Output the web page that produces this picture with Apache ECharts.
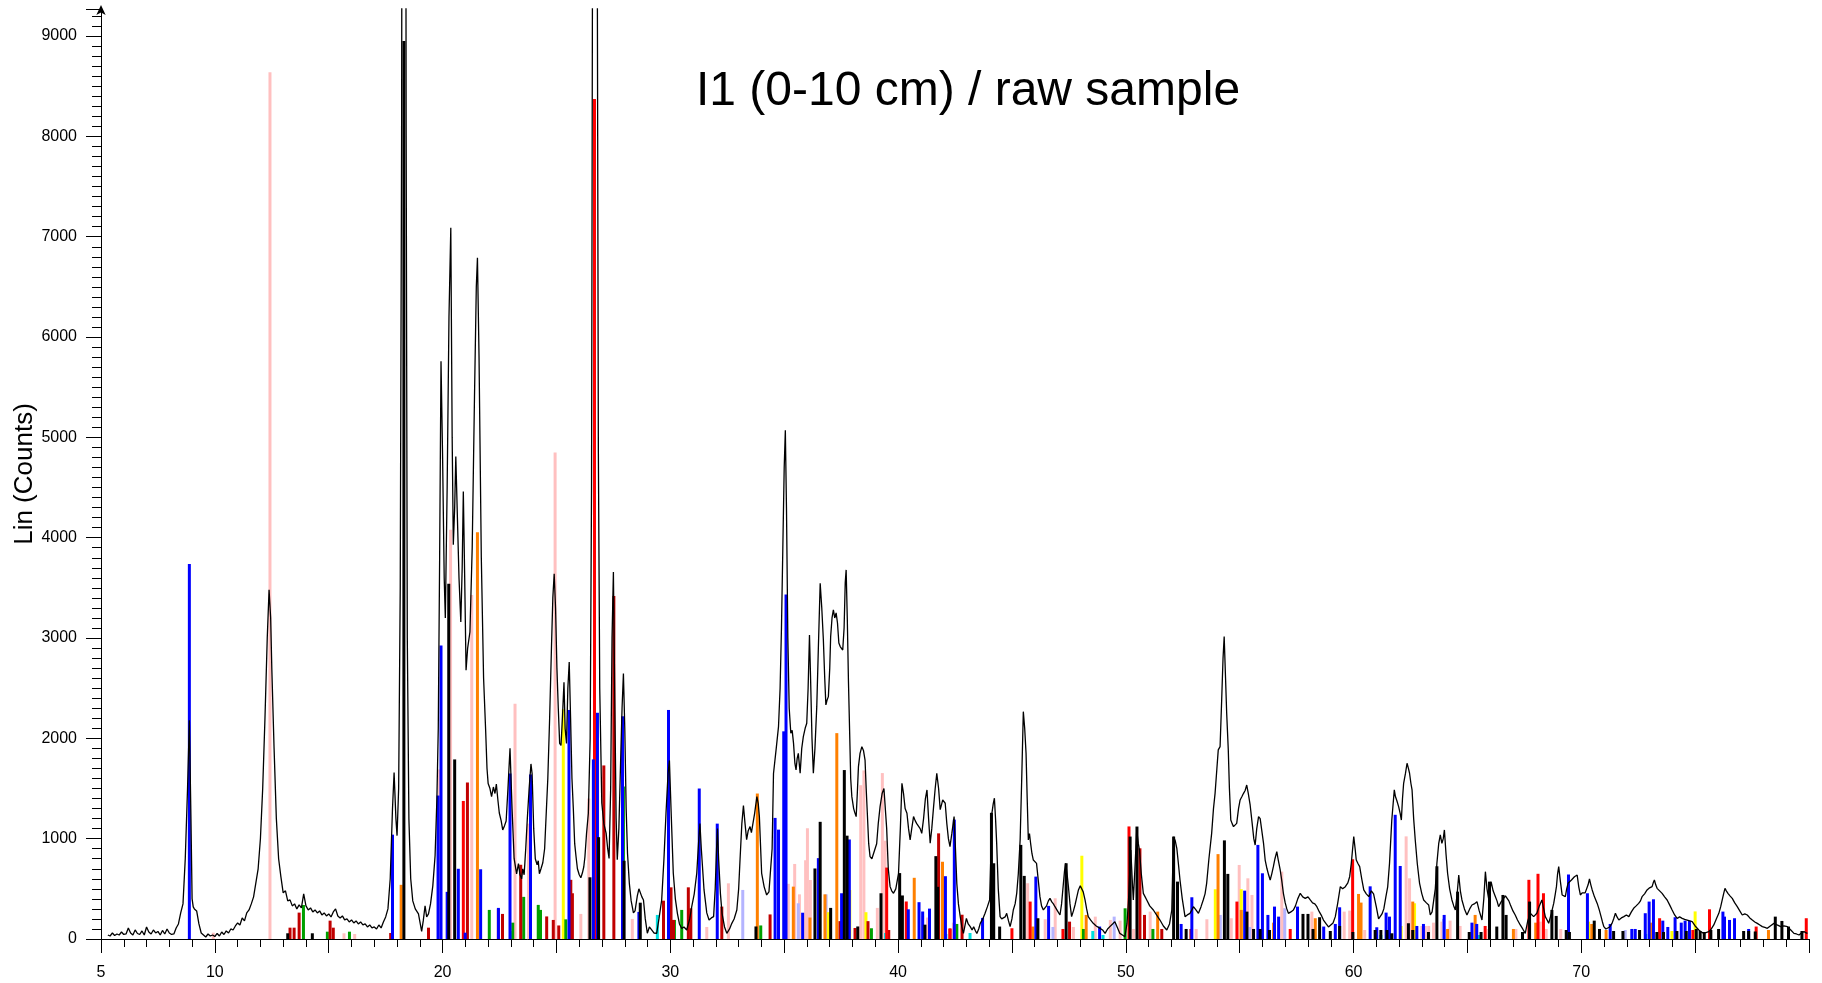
<!DOCTYPE html>
<html>
<head>
<meta charset="utf-8">
<title>I1 (0-10 cm) / raw sample</title>
<script src="https://cdn.jsdelivr.net/npm/echarts@6/dist/echarts.min.js"></script>
<style>
  html, body { margin: 0; padding: 0; background: #fff; }
  #chart { width: 1822px; height: 983px; }
</style>
</head>
<body>
<div id="chart"></div>
<script>
// Measured scan: [2-theta (deg), intensity (counts)]
const scanPoints = [
  [5.3,40],[5.4,30],[5.5,60],[5.6,35],[5.7,50],[5.8,40],[5.9,70],[6.0,45],[6.1,50],[6.2,110],[6.3,60],[6.4,40],
  [6.5,90],[6.6,55],[6.7,45],[6.8,80],[6.9,40],[7.0,120],[7.1,70],[7.2,50],[7.3,90],[7.4,60],[7.5,75],[7.6,40],
  [7.7,85],[7.8,50],[7.9,100],[8.0,60],[8.1,45],[8.2,50],[8.3,110],[8.4,150],[8.5,260],[8.6,350],[8.7,800],
  [8.8,1500],[8.88,2180],[8.95,1200],[9.0,400],[9.05,320],[9.1,300],[9.2,280],[9.3,150],[9.4,60],[9.5,40],
  [9.6,20],[9.7,50],[9.8,30],[9.9,40],[10.0,25],[10.1,55],[10.2,30],[10.3,70],[10.4,45],[10.5,80],[10.6,60],
  [10.7,100],[10.8,90],[10.9,130],[11.0,160],[11.1,140],[11.2,210],[11.3,180],[11.4,260],[11.5,290],[11.6,350],
  [11.7,420],[11.8,560],[11.9,700],[12.0,1000],[12.1,1500],[12.2,2200],[12.3,3000],[12.38,3480],[12.45,3200],
  [12.5,2700],[12.6,1900],[12.7,1200],[12.8,800],[12.9,620],[13.0,460],[13.1,480],[13.2,380],[13.3,390],
  [13.4,330],[13.5,350],[13.6,300],[13.7,340],[13.8,310],[13.9,450],[14.0,330],[14.1,290],[14.2,310],[14.3,270],
  [14.4,290],[14.5,260],[14.6,280],[14.7,240],[14.8,260],[14.9,230],[15.0,250],[15.1,220],[15.2,270],[15.3,300],
  [15.4,230],[15.5,210],[15.6,230],[15.7,190],[15.8,200],[15.9,170],[16.0,190],[16.1,160],[16.2,180],[16.3,150],
  [16.4,170],[16.5,140],[16.6,150],[16.7,120],[16.8,140],[16.9,110],[17.0,120],[17.1,100],[17.2,140],[17.3,110],
  [17.4,170],[17.5,220],[17.6,300],[17.7,600],[17.8,1300],[17.87,1660],[17.95,1200],[18.0,1030],[18.07,1500],
  [18.14,3500],[18.2,8000],[18.24,15000],[18.36,15000],[18.4,8000],[18.45,3000],[18.52,1200],[18.6,600],
  [18.69,380],[18.8,300],[18.94,250],[19.02,150],[19.08,76],[19.15,180],[19.23,330],[19.3,220],[19.38,250],
  [19.47,350],[19.57,530],[19.67,830],[19.75,1400],[19.81,2100],[19.87,3800],[19.93,5760],[20.0,4800],
  [20.07,3600],[20.12,3200],[20.2,4500],[20.28,6200],[20.36,7090],[20.42,5000],[20.47,3930],[20.53,4300],
  [20.58,4810],[20.65,4200],[20.72,3600],[20.8,3160],[20.86,3700],[20.91,4460],[20.97,3600],[21.03,2680],
  [21.1,2900],[21.2,3060],[21.3,3900],[21.4,5400],[21.48,6500],[21.53,6790],[21.6,5800],[21.7,3800],[21.8,2600],
  [21.89,2080],[21.95,1700],[22.0,1550],[22.08,1500],[22.15,1420],[22.23,1515],[22.3,1450],[22.36,1545],
  [22.43,1380],[22.49,1256],[22.57,1180],[22.64,1087],[22.72,1130],[22.79,1177],[22.87,1500],[22.96,1900],
  [23.05,1300],[23.14,803],[23.25,650],[23.33,752],[23.4,640],[23.47,600],[23.52,700],[23.58,640],[23.65,900],
  [23.72,1200],[23.8,1500],[23.88,1745],[23.93,1650],[24.0,1100],[24.07,800],[24.15,740],[24.2,780],[24.25,650],
  [24.32,700],[24.4,760],[24.48,900],[24.55,1250],[24.62,1600],[24.7,2200],[24.78,2900],[24.84,3400],[24.9,3640],
  [24.96,3300],[25.02,2700],[25.08,2300],[25.14,1950],[25.2,1929],[25.26,2200],[25.33,2560],[25.38,2100],
  [25.44,1950],[25.5,2500],[25.56,2760],[25.62,2200],[25.68,1600],[25.74,1300],[25.8,950],[25.86,820],[25.92,700],
  [26.0,640],[26.07,610],[26.14,660],[26.2,720],[26.25,820],[26.32,1050],[26.4,1253],[26.48,2000],[26.54,4500],
  [26.58,9500],[26.62,14000],[26.7,15000],[26.77,12000],[26.81,8000],[26.84,4860],[26.9,2500],[26.99,1356],
  [27.08,1150],[27.18,1055],[27.25,900],[27.31,803],[27.38,1500],[27.44,3000],[27.5,3659],[27.56,2400],
  [27.62,1200],[27.67,790],[27.74,1100],[27.82,1800],[27.88,2300],[27.94,2646],[28.0,2100],[28.06,1300],
  [28.12,852],[28.2,555],[28.28,380],[28.38,260],[28.45,280],[28.55,430],[28.62,500],[28.67,495],[28.75,420],
  [28.82,389],[28.9,200],[28.99,57],[29.08,120],[29.18,90],[29.28,60],[29.4,57],[29.5,200],[29.62,389],
  [29.72,800],[29.81,1253],[29.9,1650],[29.96,1780],[30.03,1300],[30.13,655],[30.22,400],[30.31,256],[30.4,150],
  [30.5,106],[30.6,120],[30.72,90],[30.85,200],[30.94,322],[31.05,450],[31.16,655],[31.25,1000],[31.3,1150],
  [31.36,900],[31.48,489],[31.6,260],[31.7,190],[31.8,210],[31.9,223],[31.97,500],[32.03,900],[32.07,1100],
  [32.12,800],[32.2,450],[32.27,256],[32.38,120],[32.48,57],[32.6,100],[32.7,156],[32.8,200],[32.92,289],
  [33.0,500],[33.06,788],[33.14,1150],[33.21,1330],[33.28,1150],[33.35,990],[33.42,1080],[33.5,1120],[33.56,1060],
  [33.62,1053],[33.7,1250],[33.8,1420],[33.86,1350],[33.91,1220],[34.01,655],[34.12,520],[34.23,439],[34.33,470],
  [34.41,489],[34.47,900],[34.53,1650],[34.65,1900],[34.75,2117],[34.82,2500],[34.88,3100],[34.94,3900],
  [35.0,4700],[35.05,5070],[35.1,4300],[35.16,3000],[35.22,2300],[35.29,2051],[35.35,2080],[35.41,1950],
  [35.47,1750],[35.52,1685],[35.57,1800],[35.62,1850],[35.7,1652],[35.77,1900],[35.84,2017],[35.92,2100],
  [35.99,2150],[36.05,2500],[36.11,3031],[36.16,2582],[36.22,2000],[36.28,1652],[36.35,1900],[36.43,2316],
  [36.5,2900],[36.58,3546],[36.65,3300],[36.72,2981],[36.78,2600],[36.83,2333],[36.88,2380],[36.94,2416],
  [37.0,2700],[37.04,3014],[37.1,3200],[37.16,3280],[37.22,3200],[37.28,3250],[37.34,3150],[37.4,2950],
  [37.46,2915],[37.52,2900],[37.57,2880],[37.63,3100],[37.68,3550],[37.72,3679],[37.77,3200],[37.82,2582],
  [37.88,2000],[37.92,1600],[37.97,1419],[38.05,1300],[38.1,1260],[38.16,1220],[38.21,1450],[38.26,1718],
  [38.33,1850],[38.41,1917],[38.48,1880],[38.55,1784],[38.6,1500],[38.65,1253],[38.71,950],[38.77,821],
  [38.85,800],[38.92,850],[38.99,854],[39.06,950],[39.13,1150],[39.21,1319],[39.3,1450],[39.38,1500],[39.43,1518],
  [39.5,1100],[39.57,700],[39.65,522],[39.72,480],[39.8,456],[39.9,500],[40.02,655],[40.1,1100],[40.17,1552],
  [40.24,1450],[40.31,1300],[40.39,1253],[40.46,1100],[40.53,987],[40.6,1100],[40.68,1220],[40.75,1180],
  [40.82,1150],[40.9,1153],[40.97,1100],[41.04,1053],[41.12,1200],[41.2,1400],[41.27,1486],[41.34,1200],
  [41.41,954],[41.48,1100],[41.56,1319],[41.63,1500],[41.7,1652],[41.78,1500],[41.85,1290],[41.92,1350],
  [41.96,1386],[42.07,1353],[42.14,1153],[42.21,1000],[42.28,920],[42.36,1050],[42.46,1220],[42.52,900],
  [42.58,552],[42.65,350],[42.73,223],[42.8,120],[42.87,56],[43.0,206],[43.08,150],[43.17,123],[43.25,90],
  [43.32,123],[43.4,80],[43.46,56],[43.54,100],[43.61,156],[43.72,200],[43.82,256],[43.92,320],[44.02,389],
  [44.07,800],[44.12,1253],[44.18,1350],[44.23,1403],[44.28,1200],[44.33,954],[44.4,500],[44.48,223],[44.55,200],
  [44.62,189],[44.7,220],[44.77,256],[44.85,180],[44.92,123],[45.0,200],[45.06,289],[45.14,350],[45.21,455],
  [45.28,650],[45.36,987],[45.43,1600],[45.5,2266],[45.56,2100],[45.62,1852],[45.67,1400],[45.72,987],
  [45.77,1050],[45.82,954],[45.88,850],[45.94,787],[46.0,800],[46.08,754],[46.15,600],[46.23,422],[46.3,330],
  [46.38,290],[46.45,273],[46.52,330],[46.6,380],[46.67,405],[46.75,370],[46.82,350],[46.89,322],[47.0,280],
  [47.11,239],[47.18,350],[47.26,555],[47.31,680],[47.36,754],[47.42,650],[47.48,522],[47.55,350],[47.62,223],
  [47.7,280],[47.77,339],[47.85,420],[47.92,489],[48.0,530],[48.06,522],[48.13,470],[48.21,389],[48.28,300],
  [48.35,223],[48.45,190],[48.57,156],[48.7,130],[48.87,106],[48.98,90],[49.09,56],[49.2,100],[49.3,123],
  [49.42,150],[49.52,173],[49.62,120],[49.74,56],[49.85,40],[49.96,23],[50.05,150],[50.12,389],[50.18,700],
  [50.22,887],[50.28,600],[50.33,389],[50.4,700],[50.48,1087],[50.55,950],[50.6,887],[50.68,650],[50.77,455],
  [50.85,420],[50.92,389],[51.05,330],[51.21,289],[51.35,240],[51.5,189],[51.65,130],[51.8,90],[51.92,150],
  [52.02,289],[52.06,700],[52.1,1020],[52.17,980],[52.24,904],[52.31,750],[52.38,588],[52.48,400],[52.6,223],
  [52.7,240],[52.82,256],[52.9,290],[52.97,322],[53.08,290],[53.19,256],[53.3,320],[53.4,389],[53.48,450],
  [53.55,555],[53.65,800],[53.77,1053],[53.85,1300],[53.92,1452],[54.0,1700],[54.06,1885],[54.14,1918],
  [54.21,2383],[54.27,2800],[54.32,3014],[54.38,2600],[54.43,2250],[54.5,1885],[54.55,1500],[54.61,1186],
  [54.67,1150],[54.73,1120],[54.8,1130],[54.87,1153],[54.95,1300],[55.02,1386],[55.1,1420],[55.17,1452],
  [55.24,1480],[55.31,1535],[55.38,1450],[55.46,1336],[55.55,1150],[55.62,1000],[55.68,937],[55.75,1100],
  [55.83,1220],[55.9,1200],[55.97,1186],[56.05,950],[56.12,787],[56.2,700],[56.27,640],[56.34,588],[56.41,650],
  [56.48,721],[56.55,800],[56.63,871],[56.7,780],[56.78,688],[56.85,580],[56.92,455],[57.0,360],[57.07,300],
  [57.14,256],[57.25,270],[57.36,289],[57.45,330],[57.55,400],[57.66,455],[57.77,420],[57.88,405],[58.0,420],
  [58.1,389],[58.2,360],[58.3,350],[58.39,322],[58.5,270],[58.6,230],[58.68,189],[58.8,150],[58.9,120],
  [58.98,106],[59.1,160],[59.2,223],[59.3,350],[59.42,522],[59.52,500],[59.64,522],[59.75,560],[59.83,621],
  [59.9,750],[59.96,900],[60.01,1020],[60.07,900],[60.12,787],[60.2,750],[60.27,721],[60.36,600],[60.45,489],
  [60.56,450],[60.67,422],[60.78,480],[60.88,450],[61.0,320],[61.1,200],[61.17,189],[61.25,250],[61.33,300],
  [61.42,420],[61.5,520],[61.58,754],[61.68,1186],[61.74,1350],[61.79,1486],[61.84,1420],[61.9,1380],
  [61.98,1320],[62.05,1250],[62.1,1186],[62.15,1400],[62.2,1552],[62.28,1650],[62.35,1752],[62.41,1700],
  [62.46,1652],[62.52,1550],[62.57,1486],[62.64,1200],[62.71,987],[62.8,750],[62.9,555],[63.0,450],[63.08,389],
  [63.2,360],[63.3,339],[63.37,239],[63.45,270],[63.52,289],[63.59,500],[63.66,754],[63.74,950],[63.81,1037],
  [63.88,954],[63.94,1000],[63.99,1087],[64.06,850],[64.13,655],[64.22,500],[64.32,389],[64.4,330],[64.47,289],
  [64.55,450],[64.62,638],[64.69,480],[64.76,389],[64.87,300],[64.98,239],[65.1,300],[65.2,339],[65.3,350],
  [65.42,372],[65.52,280],[65.64,189],[65.72,400],[65.79,671],[65.86,500],[65.93,405],[66.0,500],[66.04,571],
  [66.13,480],[66.23,422],[66.3,380],[66.37,322],[66.48,370],[66.59,405],[66.67,430],[66.74,422],[66.82,380],
  [66.89,339],[67.0,280],[67.1,239],[67.2,190],[67.32,140],[67.43,100],[67.54,56],[67.65,180],[67.76,256],
  [67.84,240],[67.91,223],[67.98,240],[68.05,256],[68.16,330],[68.27,389],[68.35,300],[68.42,223],[68.5,190],
  [68.57,156],[68.68,250],[68.79,355],[68.86,450],[68.91,522],[68.96,650],[69.01,721],[69.08,580],[69.16,439],
  [69.23,430],[69.3,422],[69.36,500],[69.42,555],[69.5,570],[69.57,588],[69.63,600],[69.7,621],[69.76,630],
  [69.82,638],[69.89,520],[69.96,439],[70.04,460],[70.11,472],[70.17,460],[70.23,455],[70.3,540],[70.36,598],
  [70.42,540],[70.48,489],[70.58,420],[70.7,355],[70.79,290],[70.87,223],[70.93,170],[70.99,123],[71.08,100],
  [71.16,90],[71.25,120],[71.35,156],[71.42,200],[71.5,256],[71.57,220],[71.65,189],[71.76,210],[71.87,223],
  [71.98,240],[72.09,223],[72.2,270],[72.3,306],[72.41,330],[72.52,355],[72.6,380],[72.67,422],[72.78,450],
  [72.89,489],[73.0,510],[73.11,522],[73.16,560],[73.21,588],[73.27,540],[73.33,505],[73.44,480],[73.55,455],
  [73.66,420],[73.77,389],[73.88,340],[73.99,289],[74.1,240],[74.21,206],[74.32,220],[74.43,206],[74.54,195],
  [74.65,189],[74.76,180],[74.87,173],[75.0,130],[75.16,90],[75.27,70],[75.38,56],[75.5,65],[75.6,73],
  [75.71,100],[75.82,140],[75.93,200],[76.04,256],[76.12,320],[76.19,389],[76.25,450],[76.31,505],[76.37,480],
  [76.44,455],[76.53,430],[76.63,405],[76.74,360],[76.85,322],[76.96,280],[77.07,239],[77.18,250],[77.29,239],
  [77.4,210],[77.51,189],[77.62,170],[77.73,156],[77.84,140],[77.95,123],[78.06,115],[78.17,106],[78.3,130],
  [78.46,156],[78.6,140],[78.76,123],[78.9,130],[79.05,123],[79.2,90],[79.34,56],[79.45,50],[79.56,40],
  [79.67,60],[79.78,73],[79.88,60],[79.93,56]
];

// Reference phase line patterns: [2-theta, counts]
const sticksPink = [
  [9.93,63],[12.42,8640],[15.67,57],[16.14,50],[19.86,1690],[20.35,4080],[21.28,3430],[23.18,2345],[23.77,1150],
  [24.94,4850],[26.07,250],[26.42,1400],[28.33,200],[31.6,120],[32.55,555],[34.99,890],[35.18,550],[35.46,748],
  [35.67,445],[35.94,785],[36.02,1104],[36.15,588],[38.36,1533],[38.5,1680],[39.09,310],[39.31,1654],[39.43,980],
  [41.08,232],[41.29,214],[42.43,163],[45.69,556],[46.46,197],[46.9,406],[47.7,120],[48.66,223],[49.32,190],
  [49.75,183],[50.34,100],[51.07,273],[53.09,100],[53.56,197],[54.63,207],[54.98,738],[55.36,605],[55.54,439],
  [56.85,672],[56.93,306],[58.17,273],[59.59,273],[59.83,283],[60.49,90],[62.31,1023],[62.46,605],[63.0,130],
  [63.15,130],[63.3,130],[63.51,163],[63.88,173],[64.24,183],[64.68,130],[65.93,100],[67.13,100],[68.2,173],
  [68.46,100],[69.1,100]
];
const sticksLavender = [
  [24.22,150],[33.18,489],[35.62,356],[36.84,445],[46.8,120],[49.49,223],[54.15,240],[55.44,120],[56.98,306],
  [63.95,200],[71.93,90]
];
const sticksCyan = [
  [23.05,80],[29.43,240],[39.45,60],[42.1,50],[43.16,60],[48.55,80],[49.0,40],[61.2,40],[65.5,40],[72.83,50]
];
const sticksYellow = [
  [25.3,2290],[36.94,267],[37.88,488],[38.59,267],[48.07,830],[53.93,496],[55.07,496],[62.09,130],[62.68,356],
  [70.32,173],[73.98,80],[75.0,275]
];
const sticksGreen = [
  [13.89,339],[14.94,73],[15.91,73],[22.05,290],[23.08,163],[23.56,420],[24.2,340],[24.3,290],[25.41,196],
  [27.94,1520],[30.18,190],[30.5,290],[33.97,135],[38.83,107],[42.58,150],[48.14,100],[49.97,306],[51.19,100]
];
const sticksOrange = [
  [18.18,540],[21.53,4055],[26.73,455],[33.82,1450],[35.4,522],[36.13,214],[36.79,445],[37.31,2052],[40.71,610],
  [41.95,770],[45.92,124],[48.26,240],[51.4,273],[54.05,846],[55.07,290],[56.49,163],[58.32,207],[60.22,449],
  [60.33,363],[62.6,373],[64.13,100],[65.34,240],[67.02,100],[68.0,163],[69.44,100],[70.46,150],[71.09,90],
  [73.07,163],[78.22,90]
];
const sticksDarkRed = [
  [13.3,113],[13.48,113],[13.7,263],[15.06,183],[15.2,113],[17.72,60],[19.38,113],[21.09,1560],[22.63,250],
  [23.43,740],[24.57,225],[24.86,190],[25.1,135],[25.63,590],[25.7,456],[27.08,1730],[27.52,3420],[29.7,382],
  [30.03,515],[30.14,190],[30.79,515],[30.9,306],[32.26,323],[34.38,245],[37.45,178],[38.11,110],[38.68,178],
  [39.59,90],[41.78,1053],[42.28,100],[42.81,242],[47.53,173],[50.62,904],[50.82,240],[51.58,100],[52.86,100]
];
const sticksRed = [
  [20.91,1376],[22.45,300],[26.67,8372],[39.5,712],[40.36,374],[42.28,107],[45.0,107],[45.8,373],[47.24,100],
  [50.14,1122],[54.88,373],[57.22,100],[59.96,795],[65.78,130],[67.7,590],[68.1,650],[68.34,456],[73.44,207],
  [74.9,90],[75.63,296],[77.68,124],[79.88,207]
];
const sticksBlue = [
  [8.88,3739],[17.8,1040],[19.8,1430],[19.93,2925],[20.2,470],[20.69,700],[20.99,63],[21.67,695],[22.45,310],
  [22.96,1650],[23.86,1640],[25.55,2283],[26.62,1790],[26.8,2255],[27.9,2220],[28.62,270],[29.92,2283],
  [31.27,1500],[32.06,1150],[34.6,1207],[34.75,1090],[34.98,2070],[35.08,3433],[35.81,262],[36.5,806],
  [37.52,456],[37.86,992],[40.45,296],[40.92,367],[41.08,274],[41.38,303],[42.08,626],[42.47,1190],[43.71,210],
  [46.05,622],[46.61,330],[48.85,124],[52.43,150],[52.9,416],[55.22,482],[55.8,938],[56.0,655],[56.24,240],
  [56.53,323],[56.71,223],[57.54,323],[58.69,124],[59.2,150],[59.39,316],[60.73,525],[61.02,117],[61.43,263],
  [61.58,223],[61.83,1238],[62.05,728],[62.78,130],[63.07,150],[63.98,240],[65.2,163],[65.41,150],[69.44,643],
  [70.27,456],[71.27,150],[72.22,100],[72.37,100],[72.81,257],[72.98,373],[73.17,396],[73.58,183],[73.8,120],
  [74.12,217],[74.39,163],[74.56,183],[74.75,183],[76.22,273],[76.29,223],[76.51,190],[76.73,207],[77.35,100]
];
const sticksBlack = [
  [13.2,57],[14.28,57],[18.3,8950],[20.27,3540],[20.53,1790],[26.47,615],[26.85,1015],[27.97,780],[28.68,362],
  [33.76,125],[36.35,703],[36.58,1168],[37.04,310],[37.64,1684],[37.76,1030],[38.23,125],[39.25,456],[40.07,657],
  [40.19,434],[41.18,143],[41.66,826],[41.74,520],[44.1,1258],[44.2,755],[44.46,124],[45.39,938],[45.54,629],
  [46.14,207],[47.38,755],[50.19,1021],[50.49,1121],[52.1,1021],[52.27,572],[52.65,100],[54.33,983],[54.48,649],
  [55.32,273],[55.61,100],[55.9,100],[56.31,90],[57.78,250],[58.0,250],[58.22,100],[58.51,217],[58.98,80],
  [59.39,130],[59.97,70],[60.95,90],[61.2,90],[61.47,90],[61.68,57],[62.41,157],[62.6,90],[63.29,70],[63.66,725],
  [64.57,472],[65.08,70],[65.6,70],[65.97,572],[66.29,124],[66.56,439],[66.7,240],[67.42,70],[67.73,373],
  [68.71,290],[68.9,230],[69.34,90],[69.48,70],[70.57,183],[70.8,100],[71.42,80],[71.83,80],[72.56,90],
  [73.32,70],[73.61,70],[74.2,80],[74.61,80],[75.05,100],[75.22,80],[75.4,70],[75.69,90],[76.03,100],[77.13,80],
  [77.35,80],[77.64,75],[78.52,223],[78.81,180],[79.1,124],[79.69,80]
];

// Tick labels shown on the 2-theta axis
const xTickLabels = [5, 10, 20, 30, 40, 50, 60, 70];

const FONT = '"Liberation Sans", Arial, Helvetica, sans-serif';

// Each phase pattern is drawn as thin vertical bars from zero up to its intensity
function stickSeries(name, data, color, z) {
  return {
    name: name,
    type: 'custom',
    data: data,
    z: z,
    silent: true,
    animation: false,
    encode: { x: 0, y: 1 },
    renderItem: function (params, api) {
      const base = api.coord([api.value(0), 0]);
      const top = api.coord([api.value(0), api.value(1)]);
      return {
        type: 'rect',
        shape: { x: base[0] - 1.5, y: top[1], width: 3, height: base[1] - top[1] },
        style: { fill: color }
      };
    }
  };
}

const chart = echarts.init(document.getElementById('chart'), null, { renderer: 'canvas' });

chart.setOption({
  backgroundColor: '#ffffff',
  animation: false,
  grid: { left: 101, right: 13, top: 9, bottom: 44, containLabel: false, outerBoundsMode: 'none' },
  xAxis: {
    type: 'value',
    min: 5,
    max: 80,
    interval: 5,
    axisLine: { show: true, onZero: false, lineStyle: { color: '#000', width: 1 } },
    axisTick: { show: true, inside: false, length: 14, lineStyle: { color: '#000', width: 1 } },
    minorTick: { show: true, splitNumber: 5, length: 8, lineStyle: { color: '#000', width: 1 } },
    splitLine: { show: false },
    axisLabel: {
      margin: 26,
      color: '#000',
      fontFamily: FONT,
      fontSize: 16,
      showMaxLabel: false,
      formatter: function (v) { return xTickLabels.indexOf(v) >= 0 ? String(v) : ''; }
    }
  },
  yAxis: {
    type: 'value',
    min: 0,
    max: 9270,
    interval: 1000,
    axisLine: {
      show: true,
      onZero: false,
      symbol: ['none', 'arrow'],
      symbolSize: [7, 10],
      symbolOffset: [0, 4],
      lineStyle: { color: '#000', width: 1 }
    },
    axisTick: { show: true, inside: false, length: 15, lineStyle: { color: '#000', width: 1 } },
    minorTick: { show: true, splitNumber: 10, length: 9, lineStyle: { color: '#000', width: 1 } },
    splitLine: { show: false },
    axisLabel: {
      margin: 24,
      color: '#000',
      fontFamily: FONT,
      fontSize: 16,
      showMaxLabel: false,
      formatter: function (v) { return String(v); }
    }
  },
  graphic: [
    {
      type: 'text',
      x: 968,
      y: 92,
      style: {
        text: 'I1 (0-10 cm) / raw sample',
        fill: '#000',
        font: '48px ' + FONT,
        textAlign: 'center',
        textVerticalAlign: 'middle'
      },
      z: 100
    },
    {
      type: 'text',
      x: 25,
      y: 474,
      rotation: Math.PI / 2,
      style: {
        text: 'Lin (Counts)',
        fill: '#000',
        font: '26px ' + FONT,
        textAlign: 'center',
        textVerticalAlign: 'middle'
      },
      z: 100
    }
  ],
  series: [
    stickSeries('pink', sticksPink, '#ffc0c0', 2),
    stickSeries('lavender', sticksLavender, '#b4b4ff', 3),
    stickSeries('cyan', sticksCyan, '#00e0e0', 3),
    stickSeries('yellow', sticksYellow, '#ffff00', 4),
    stickSeries('green', sticksGreen, '#00a000', 4),
    stickSeries('orange', sticksOrange, '#ff8000', 5),
    stickSeries('darkred', sticksDarkRed, '#c00000', 5),
    stickSeries('red', sticksRed, '#ff0000', 6),
    stickSeries('blue', sticksBlue, '#0000ff', 6),
    stickSeries('black', sticksBlack, '#000000', 7),
    {
      name: 'scan',
      type: 'line',
      data: scanPoints,
      z: 10,
      clip: true,
      showSymbol: false,
      symbol: 'none',
      silent: true,
      animation: false,
      lineStyle: { color: '#000', width: 1.3 }
    }
  ]
});
</script>
</body>
</html>
